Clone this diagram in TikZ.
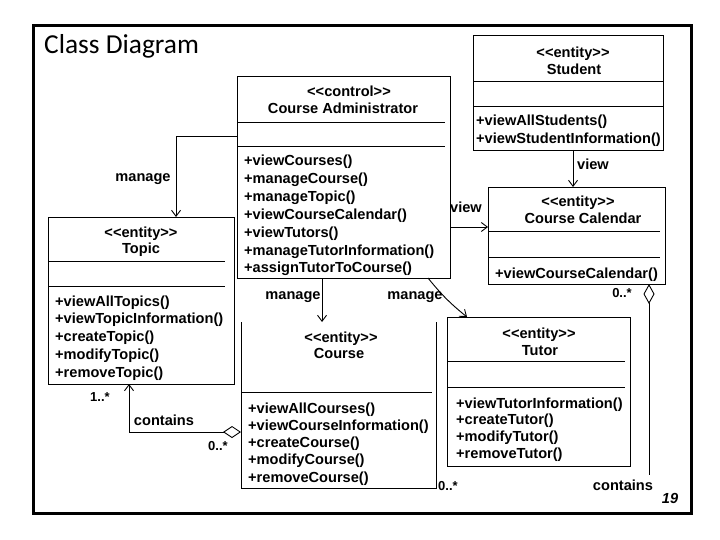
\documentclass[tikz,border=0pt]{standalone}
\usepackage{fontspec}
\setmainfont{Liberation Sans}
\newfontfamily\titlefont{Carlito}
\usetikzlibrary{arrows.meta}
\newcommand\stereo[1]{<\kern0pt<#1>\kern0pt>}
\begin{document}
\begin{tikzpicture}[x=1pt,y=-1pt,
  cls/.style={draw, line width=0.9pt, inner sep=0pt, outer sep=0pt, anchor=north west},
  tx/.style={font=\fontsize{14.6}{16}\selectfont\bfseries, inner sep=0pt, anchor=base},
  mt/.style={tx, anchor=base west},
  lbl/.style={tx},
  mult/.style={font=\fontsize{13}{15}\selectfont\bfseries, inner sep=0pt, anchor=base},
  divl/.style={line width=0.8pt},
  arr/.style={line width=0.9pt, -{Straight Barb[length=6pt,width=9pt]}},
  agg/.style={line width=0.9pt, {Diamond[open,length=18pt,width=12pt]}-{Straight Barb[length=6pt,width=9pt]}},
  ]
\useasboundingbox (0,0) rectangle (720,540);
\node[draw, line width=3pt, minimum width=658pt, minimum height=488pt, anchor=north west, inner sep=0pt] (frame) at (32,24) {};
\node[anchor=base west, inner sep=0pt, font=\titlefont\fontsize{27.4}{30}\selectfont] (title) at (44,54) {Class Diagram};

% Course Administrator
\node[cls, minimum width=213pt, minimum height=202pt] (ca) at (237,76) {};
\draw[divl] (ca.west |- 0,122) -- (445,122);
\draw[divl] (ca.west |- 0,146) -- (445,146);
\node[tx] (ca-s) at (349,97) {\stereo{control}};
\node[tx] (ca-n) at (343,114) {Course Administrator};
\foreach \t [count=\i] in {+viewCourses(),+manageCourse(),+manageTopic(),+viewCourseCalendar(),+viewTutors(),+manageTutorInformation(),+assignTutorToCourse()}
  \node[mt] (ca-m\i) at (244,{166+(\i-1)*17.8}) {\t};

% Student
\node[cls, minimum width=190pt, minimum height=115pt] (student) at (473,35) {};
\draw[divl] (student.west |- 0,81) -- (663,81);
\draw[divl] (student.west |- 0,106) -- (663,106);
\node[tx] (st-s) at (573,58) {\stereo{entity}};
\node[tx] (st-n) at (574,75) {Student};
\node[mt] (st-m1) at (476,126) {+viewAllStudents()};
\node[mt] (st-m2) at (476,144) {+viewStudentInformation()};

% Course Calendar
\node[cls, minimum width=177pt, minimum height=97pt] (cal) at (488,187) {};
\draw[divl] (cal.west |- 0,231) -- (660,231);
\draw[divl] (cal.west |- 0,257) -- (660,257);
\node[tx] (cal-s) at (578,207) {\stereo{entity}};
\node[tx] (cal-n) at (583,224) {Course Calendar};
\node[mt] (cal-m1) at (495,278) {+viewCourseCalendar()};

% Topic
\node[cls, minimum width=186pt, minimum height=167pt] (topic) at (48,217) {};
\draw[divl] (topic.west |- 0,261) -- (225,261);
\draw[divl] (topic.west |- 0,286) -- (225,286);
\node[tx] (tp-s) at (141,237) {\stereo{entity}};
\node[tx] (tp-n) at (141,254) {Topic};
\foreach \t [count=\i] in {+viewAllTopics(),+viewTopicInformation(),+createTopic(),+modifyTopic(),+removeTopic()}
  \node[mt] (tp-m\i) at (55,{306+(\i-1)*17.75}) {\t};

% Course (no top border)
\node[inner sep=0pt, outer sep=0pt, anchor=north west, minimum width=195pt, minimum height=166pt] (course) at (241,322) {};
\draw[line width=0.9pt] (course.north west) -- (course.south west) -- (course.south east) -- (course.north east);
\draw[divl] (course.west |- 0,392) -- (432,392);
\node[tx] (co-s) at (341,342) {\stereo{entity}};
\node[tx] (co-n) at (339,358) {Course};
\foreach \t [count=\i] in {+viewAllCourses(),+viewCourseInformation(),+createCourse(),+modifyCourse(),+removeCourse()}
  \node[mt] (co-m\i) at (248,{413+(\i-1)*17.25}) {\t};

% Tutor
\node[cls, minimum width=183pt, minimum height=149pt] (tutor) at (447,317) {};
\draw[divl] (tutor.west |- 0,361) -- (625,361);
\draw[divl] (tutor.west |- 0,387) -- (625,387);
\node[tx] (tu-s) at (539,338) {\stereo{entity}};
\node[tx] (tu-n) at (540,355) {Tutor};
\foreach \t [count=\i] in {+viewTutorInformation(),+createTutor(),+modifyTutor(),+removeTutor()}
  \node[mt] (tu-m\i) at (456,{408+(\i-1)*16.7}) {\t};

% connectors
\draw[arr] (ca.west |- 0,136) -| (topic.north -| 176,0);
\node[lbl] (l-man1) at (143,182) {manage};
\draw[arr] (ca.south -| 322,0) -- (course.north -| 322,0);
\node[lbl] (l-man2) at (293,299) {manage};
\draw[arr] (ca.south -| 428,0) to[bend right=6] (tutor.north -| 467,0);
\node[lbl] (l-man3) at (415,299) {manage};
\draw[arr] (student.south -| 573,0) -- (cal.north -| 573,0);
\node[lbl] (l-view1) at (593,170) {view};
\draw[arr] (ca.east |- 0,227) -- (cal.west |- 0,227);
\node[lbl] (l-view2) at (466,213) {view};
\draw[agg] (course.west |- 0,432) -| (topic.south -| 129,0);
\node[lbl] (l-con1) at (164,425) {contains};
\node[mult] (m-1) at (100,401) {1..*};
\node[mult] (m-2) at (218,450) {0..*};
\coordinate (cend) at (649,475);
\draw[line width=0.9pt, {Diamond[open,length=20pt,width=11pt]}-] (cal.south -| 649,0) -- (cend);
\node[mult] (m-3) at (622,297) {0..*};
\node[lbl] (l-con2) at (623,490) {contains};
\node[mult] (m-4) at (448,490) {0..*};
\node[font=\fontsize{14.6}{16}\selectfont\bfseries\itshape, inner sep=0pt, anchor=base] (pg) at (670,503) {19};
\end{tikzpicture}
\end{document}
